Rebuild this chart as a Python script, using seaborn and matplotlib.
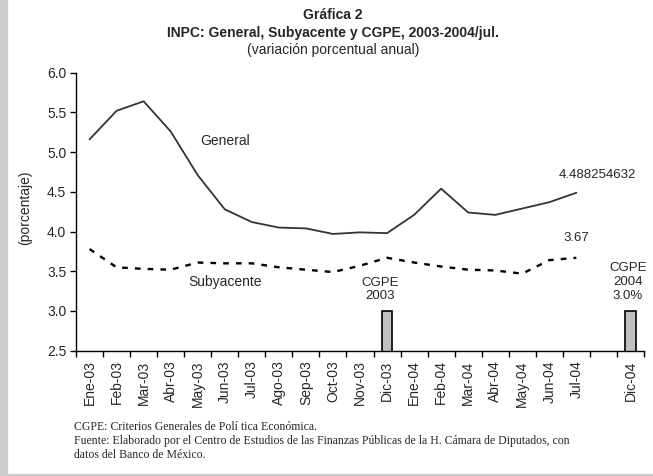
import numpy as np
import pandas as pd
import seaborn as sns
import matplotlib.pyplot as plt
from matplotlib.patches import Rectangle
from matplotlib.ticker import FixedLocator, NullFormatter, FormatStrFormatter

# categories on the x axis (one empty slot between Jul-04 and Dic-04)
meses = ["Ene-03", "Feb-03", "Mar-03", "Abr-03", "May-03", "Jun-03", "Jul-03",
         "Ago-03", "Sep-03", "Oct-03", "Nov-03", "Dic-03", "Ene-04", "Feb-04",
         "Mar-04", "Abr-04", "May-04", "Jun-04", "Jul-04", " ", "Dic-04"]

# INPC general, annual % change (Ene-03 .. Jul-04)
general = [5.16, 5.52, 5.64, 5.26, 4.71, 4.28, 4.12, 4.05, 4.04, 3.97,
           3.99, 3.98, 4.21, 4.54, 4.24, 4.21, 4.29, 4.37, 4.488254632]
# INPC subyacente
subyacente = [3.78, 3.55, 3.53, 3.52, 3.61, 3.60, 3.60, 3.55, 3.52, 3.49,
              3.57, 3.67, 3.61, 3.56, 3.52, 3.51, 3.47, 3.64, 3.67]
# CGPE targets
cgpe_mes = ["Dic-03", "Dic-04"]
cgpe_val = [3.0, 3.0]

sns.set_style("white")
plt.rcParams["font.family"] = ["Liberation Sans", "DejaVu Sans"]

fig = plt.figure(figsize=(6.53, 4.76), dpi=100)
ax = fig.add_axes([0.1164, 0.2632, 0.8698, 0.5841])

df_cgpe = pd.DataFrame({"mes": cgpe_mes, "valor": cgpe_val})
sns.barplot(data=df_cgpe, x="mes", y="valor", order=meses, width=0.4,
            color="#c0c0c0", edgecolor="black", linewidth=1.2, saturation=1, ax=ax)

pos = np.arange(len(general))
sns.lineplot(x=pos, y=general, color="#333333", linewidth=1.3, ax=ax)
sns.lineplot(x=pos, y=subyacente, color="black", linewidth=1.7, ax=ax)
ax.lines[-1].set_linestyle((0, (2.4, 3.0)))

ax.set_xlim(-0.5, len(meses) - 0.5)
ax.set_ylim(2.5, 6.0)
ax.set_yticks(np.arange(2.5, 6.01, 0.5))
ax.yaxis.set_major_formatter(FormatStrFormatter("%.1f"))

# ticks at the slot boundaries, labels centred in each slot
ax.xaxis.set_major_locator(FixedLocator(np.arange(-0.5, len(meses), 1.0)))
ax.xaxis.set_major_formatter(NullFormatter())
ax.xaxis.set_minor_locator(FixedLocator(np.arange(len(meses))))
ax.set_xticklabels(meses, minor=True, rotation=90, fontsize=10)
ax.tick_params(axis="x", which="minor", length=0, pad=7)
ax.tick_params(axis="x", which="major", direction="out", length=4, width=1, color="black", bottom=True)
ax.tick_params(axis="y", direction="out", length=4, width=1, color="black", left=True, labelsize=10, pad=3)

for s in ["top", "right"]:
    ax.spines[s].set_visible(False)
for s in ["left", "bottom"]:
    ax.spines[s].set_color("black")
    ax.spines[s].set_linewidth(1)

ax.set_xlabel("")
ax.set_ylabel("(porcentaje)", fontsize=10)
ax.yaxis.set_label_coords(-0.0775, 0.513)

# annotations
ax.text(5.0, 5.14, "General", fontsize=10, ha="center", va="center")
ax.text(5.0, 3.36, "Subyacente", fontsize=10, ha="center", va="center")
ax.text(10.76, 3.27, "CGPE\n2003", fontsize=9.5, ha="center", va="center", linespacing=1.2)
ax.text(19.9, 3.365, "CGPE\n2004\n3.0%", fontsize=9.5, ha="center", va="center", linespacing=1.2)
ax.text(18.79, 4.71, str(general[-1]), fontsize=9.5, ha="center", va="center")
ax.text(18.0, 3.915, f"{subyacente[-1]:.2f}", fontsize=9.5, ha="center", va="center")

# titles
fig.text(0.51, 0.968, "Gráfica 2", fontsize=10, fontweight="bold", ha="center", va="center")
fig.text(0.51, 0.931, "INPC: General, Subyacente y CGPE, 2003-2004/jul.", fontsize=10,
         fontweight="bold", ha="center", va="center")
fig.text(0.51, 0.895, "(variación porcentual anual)", fontsize=10, ha="center", va="center")

# footnotes
notas = ["CGPE: Criterios Generales de Polí tica Económica.",
         "Fuente: Elaborado por el Centro de Estudios de las Finanzas Públicas de la H. Cámara de Diputados, con",
         "datos del Banco de México."]
for i, n in enumerate(notas):
    fig.text(0.1133, 0.103 - i * 0.0295, n, fontsize=8.5, family="Liberation Serif", va="center")

# grey frame strips
fig.patches.append(Rectangle((0, 0), 7 / 653, 1, transform=fig.transFigure, color="#cccccc", zorder=0))
fig.patches.append(Rectangle((0, 0), 1, 2.5 / 476, transform=fig.transFigure, color="#cccccc", zorder=0))

fig.savefig("out.png", dpi=100)
